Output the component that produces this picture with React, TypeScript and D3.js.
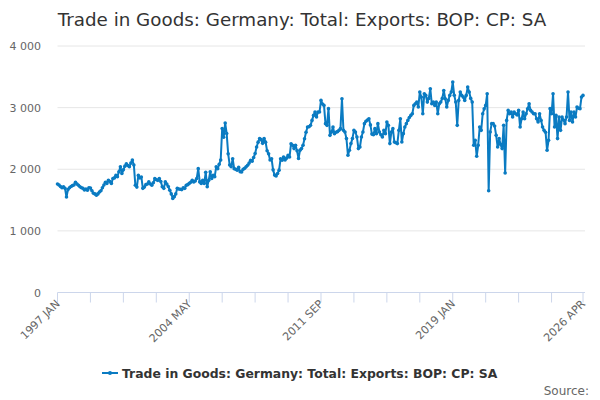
import React from "react";
import * as d3 from "d3";

const title = "Trade in Goods: Germany: Total: Exports: BOP: CP: SA";
const seriesName = "Trade in Goods: Germany: Total: Exports: BOP: CP: SA";
const startYear = 1997;
const monthNames = ["JAN","FEB","MAR","APR","MAY","JUN","JUL","AUG","SEP","OCT","NOV","DEC"];

const v1997 = [1760, 1745, 1720, 1700, 1715, 1690, 1550, 1670, 1700, 1720, 1735, 1745];
const v1998 = [1790, 1760, 1740, 1715, 1700, 1690, 1665, 1680, 1660, 1700, 1695, 1650];
const v1999 = [1610, 1600, 1580, 1600, 1630, 1650, 1700, 1745, 1790, 1770, 1820, 1800];
const v2000 = [1770, 1850, 1860, 1900, 1880, 1960, 2040, 1930, 1990, 2050, 2090, 2060];
const v2001 = [2040, 2100, 2150, 2070, 1740, 1710, 1900, 1860, 1875, 1690, 1710, 1750];
const v2002 = [1760, 1795, 1760, 1740, 1780, 1850, 1830, 1820, 1850, 1800, 1715, 1690];
const v2003 = [1795, 1760, 1720, 1660, 1600, 1525, 1555, 1600, 1690, 1680, 1675, 1670];
const v2004 = [1700, 1690, 1740, 1750, 1770, 1790, 1820, 1795, 1810, 1850, 2010, 1795];
const v2005 = [1770, 1820, 1770, 1950, 1715, 1820, 1960, 1850, 1900, 1880, 2040, 2010];
const v2006 = [2080, 2150, 2660, 2520, 2750, 2580, 2250, 2070, 2040, 2170, 2010, 2000];
const v2007 = [1985, 2030, 1960, 1955, 2000, 2015, 2040, 2065, 2100, 2145, 2130, 2190];
const v2008 = [2255, 2360, 2440, 2500, 2480, 2420, 2500, 2440, 2300, 2250, 2150, 2170];
const v2009 = [1990, 1905, 1890, 1930, 1985, 2170, 2145, 2200, 2150, 2180, 2225, 2200];
const v2010 = [2415, 2390, 2335, 2390, 2300, 2175, 2310, 2335, 2390, 2495, 2600, 2685];
const v2011 = [2690, 2712, 2793, 2874, 2928, 2847, 2928, 2928, 3117, 3060, 3036, 2740];
const v2012 = [2712, 2983, 2550, 2604, 2685, 2578, 2600, 2610, 2631, 2659, 3145, 2631];
const v2013 = [2604, 2497, 2227, 2308, 2416, 2500, 2631, 2604, 2523, 2335, 2361, 2523];
const v2014 = [2604, 2740, 2780, 2800, 2820, 2720, 2570, 2560, 2659, 2578, 2740, 2604];
const v2015 = [2560, 2523, 2631, 2578, 2766, 2712, 2416, 2604, 2659, 2442, 2430, 2416];
const v2016 = [2631, 2820, 2442, 2578, 2685, 2740, 2793, 2840, 2874, 2901, 3036, 3063];
const v2017 = [3090, 3009, 3252, 3171, 2901, 3225, 3198, 3090, 3150, 3307, 3063, 3090];
const v2018 = [3036, 3090, 2901, 3063, 3090, 3150, 3279, 3145, 3009, 3117, 3198, 3252];
const v2019 = [3414, 3200, 3090, 2712, 3117, 3252, 3198, 3171, 3117, 3198, 3333, 3252];
const v2020 = [3150, 3090, 2389, 2470, 2210, 2389, 2685, 2631, 2901, 2980, 3036, 3225];
const v2021 = [1650, 2604, 2740, 2740, 2700, 2550, 2361, 2497, 2400, 2335, 2712, 1940];
const v2022 = [2793, 2955, 2901, 2928, 2847, 2928, 2901, 2880, 2955, 2685, 2820, 2928];
const v2023 = [2820, 2901, 2980, 3063, 2955, 2928, 2901, 2901, 2820, 2766, 2901, 2793];
const v2024 = [2685, 2631, 2600, 2308, 2470, 2983, 2901, 3225, 2685, 2874, 2497, 2847];
const v2025 = [2631, 2847, 2800, 2740, 2847, 3252, 2793, 2928, 2766, 2928, 2847, 3009];
const v2026 = [2990, 2983, 3171, 3198];

const values: number[] = [
  ...v1997, ...v1998, ...v1999, ...v2000, ...v2001, ...v2002, ...v2003, ...v2004,
  ...v2005, ...v2006, ...v2007, ...v2008, ...v2009, ...v2010, ...v2011, ...v2012,
  ...v2013, ...v2014, ...v2015, ...v2016, ...v2017, ...v2018, ...v2019, ...v2020,
  ...v2021, ...v2022, ...v2023, ...v2024, ...v2025, ...v2026,
];

const categories = values.map((_, i) => `${startYear + Math.floor(i / 12)} ${monthNames[i % 12]}`);
const yTicks = [0, 1000, 2000, 3000, 4000];
const xTickStep = 22;
const xLabelStep = 88;

const W = 600;
const H = 400;
const left = 57.5;
const right = 583;
const top = 46;
const bottom = 292.5;

const fmt = (v: number) => d3.format(",")(v).replace(/,/g, " ");

export default function App() {
  const n = values.length;
  const x = d3.scaleLinear().domain([0, n - 1]).range([left, right]);
  const y = d3.scaleLinear().domain([0, 4000]).range([bottom, top]);
  const line = d3.line<number>().x((_, i) => x(i)).y((d) => y(d));

  const tickIdx: number[] = [];
  for (let i = 0; i < n; i += xTickStep) tickIdx.push(i);
  if (tickIdx[tickIdx.length - 1] !== n - 1) tickIdx.push(n - 1);
  const labelIdx: number[] = [];
  for (let i = 0; i < n; i += xLabelStep) labelIdx.push(i);
  if (labelIdx[labelIdx.length - 1] !== n - 1) labelIdx.push(n - 1);

  const color = "#0a7bc2";
  const font = "'DejaVu Sans', sans-serif";

  return (
    <svg width={W} height={H} style={{ position: "absolute", left: 0, top: 0, background: "#fff" }} fontFamily={font}>
      <rect width={W} height={H} fill="#fff" />
      <text x={302} y={26} textAnchor="middle" fontSize={18.3} fill="#333333">{title}</text>
      {yTicks.map((t) => (
        <g key={t}>
          {t > 0 && <line x1={left} x2={right + 2} y1={y(t)} y2={y(t)} stroke="#e6e6e6" strokeWidth={1} />}
          <text x={41} y={y(t) + 4} textAnchor="end" fontSize={11} fill="#666666">{fmt(t)}</text>
        </g>
      ))}
      <line x1={left} x2={right + 2} y1={bottom} y2={bottom} stroke="#ccd6eb" strokeWidth={1} />
      {tickIdx.map((i) => (
        <line key={i} x1={x(i)} x2={x(i)} y1={bottom} y2={bottom + 10} stroke="#ccd6eb" strokeWidth={1} />
      ))}
      {labelIdx.map((i) => (
        <text key={i} transform={`translate(${x(i) + 3},${bottom + 12}) rotate(-45)`} textAnchor="end" fontSize={11} fill="#666666">
          {categories[i]}
        </text>
      ))}
      <path d={line(values) || ""} fill="none" stroke={color} strokeWidth={2} strokeLinejoin="round" />
      {values.map((v, i) => (
        <circle key={i} cx={x(i)} cy={y(v)} r={1.8} fill={color} />
      ))}
      <g>
        <line x1={102} x2={118} y1={373} y2={373} stroke={color} strokeWidth={2} />
        <circle cx={110} cy={373} r={2} fill={color} />
        <text x={122} y={377.5} fontSize={12.4} fontWeight="bold" fill="#333333">{seriesName}</text>
      </g>
      <text x={589} y={395} textAnchor="end" fontSize={12} fill="#666666">Source:</text>
    </svg>
  );
}
